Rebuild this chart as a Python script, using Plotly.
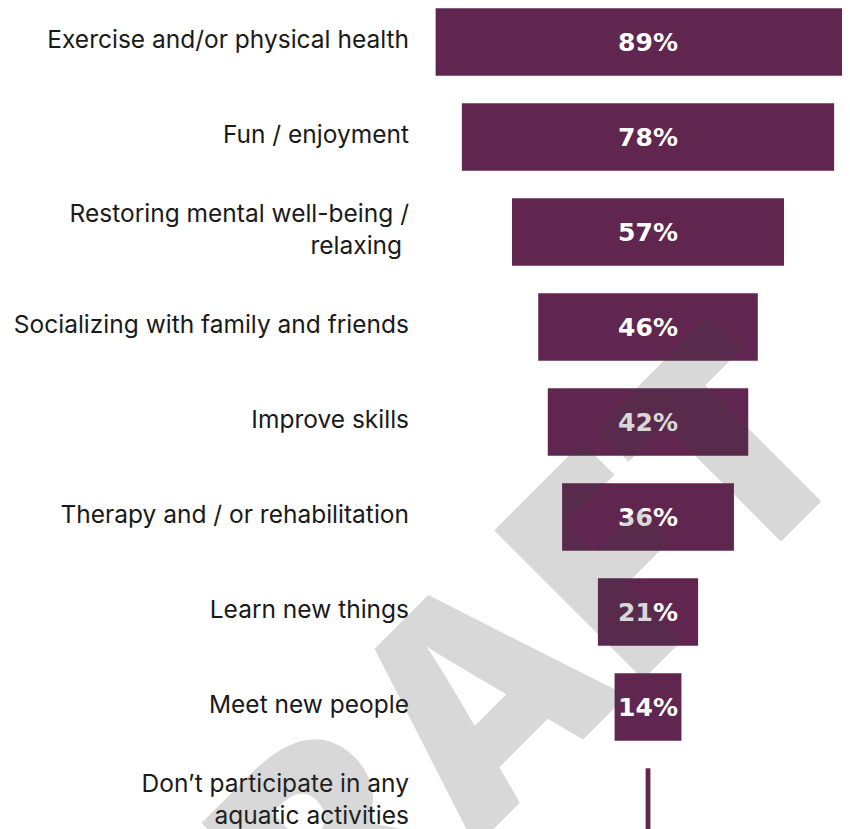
import plotly.graph_objects as go

categories = [
    "Exercise and/or physical health",
    "Fun / enjoyment",
    "Restoring mental well-being /<br>relaxing ",
    "Socializing with family and friends",
    "Improve skills",
    "Therapy and / or rehabilitation",
    "Learn new things",
    "Meet new people",
    "Don\u2019t participate in any<br>aquatic activities",
]
values = [89, 78, 57, 46, 42, 36, 21, 14, 1]
labels = ["89%", "78%", "57%", "46%", "42%", "36%", "21%", "14%", ""]

bar_color = "#60264f"

fig = go.Figure()
fig.add_trace(go.Funnel(
    y=categories,
    x=values,
    text=labels,
    textinfo="text",
    textposition="inside",
    insidetextanchor="middle",
    textfont=dict(family="DejaVu Sans", size=25, color="white", weight="bold"),
    marker=dict(color=bar_color, line=dict(width=0)),
    connector=dict(visible=False),
    constraintext="none",
    hoverinfo="skip",
))

# DRAFT watermark
fig.add_annotation(
    text="DRAFT", xref="paper", yref="paper",
    x=0.03, y=0.142, xanchor="center", yanchor="middle",
    showarrow=False, textangle=-45,
    font=dict(family="Open Sans", size=295, color="rgba(60,60,60,0.2)", weight=800),
)

fig.update_layout(
    width=850, height=829,
    margin=dict(l=420, r=0, t=0, b=0),
    plot_bgcolor="white", paper_bgcolor="white",
    showlegend=False,
    funnelgap=0.29,
    font=dict(family="Inter", size=24.5, color="#1a1a1a"),
)
fig.update_xaxes(visible=False, range=[-46.1, 44.0])
fig.update_yaxes(range=[8.368, -0.358], showgrid=False, zeroline=False,
                 ticks="", ticklabelstandoff=18, ticklabelshift=3,
                 tickfont=dict(family="Inter", size=24.5, color="#1a1a1a"))

fig.write_html("out.html")
